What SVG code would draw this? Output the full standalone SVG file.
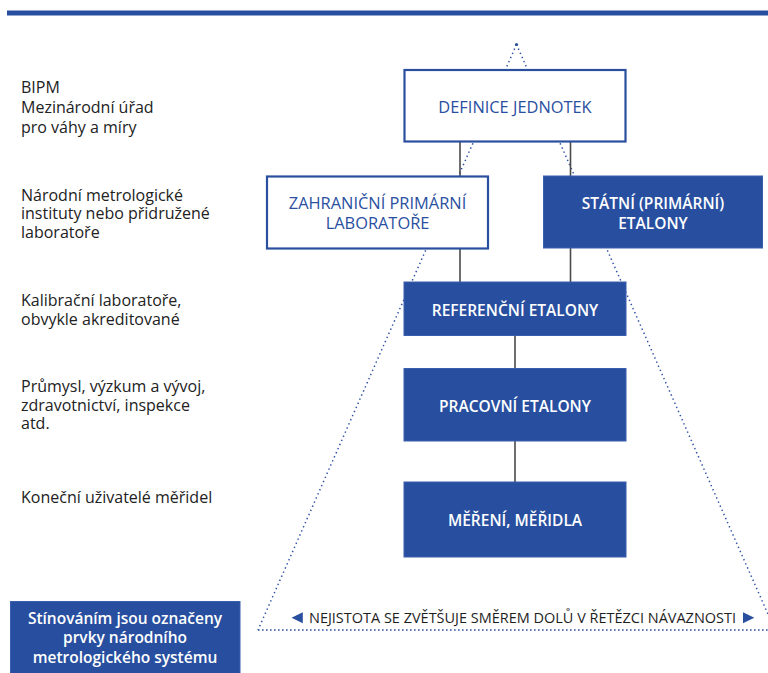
<svg xmlns="http://www.w3.org/2000/svg" width="768" height="673" viewBox="0 0 768 673">
  <style>
    .label { font-family: "Open Sans", "Noto Sans", "DejaVu Sans", sans-serif; font-size: 16px; fill: #222222; }
    .box-white { fill: #ffffff; stroke: #2a4f9f; stroke-width: 2.2; }
    .box-blue { fill: #284f9f; stroke: #3a5fac; stroke-width: 1; }
    .t-blue { font-family: "Open Sans", "Noto Sans", "DejaVu Sans", sans-serif; font-size: 16.4px; fill: #2a4f9f; text-anchor: middle; }
    .t-white { font-family: "Open Sans", "Noto Sans", "DejaVu Sans", sans-serif; font-size: 15.5px; font-weight: 600; fill: #ffffff; text-anchor: middle; }
    .link { stroke: #4a4a4a; stroke-width: 1.6; fill: none; }
    .dots { stroke: #2f52a3; stroke-width: 1.5; fill: none; stroke-dasharray: 1.4 3.1; }
    .note { font-family: "Open Sans", "Noto Sans", "DejaVu Sans", sans-serif; font-size: 15px; fill: #1e1e1e; }
  </style>

  <!-- header rule -->
  <rect x="7" y="10.5" width="761" height="5" fill="#284f9f"/>

  <!-- uncertainty pyramid (dotted), drawn under the boxes -->
  <g id="pyramid">
    <path class="dots" d="M516.5 44.5 L258 630 M516.5 44.5 L775 630"/>
    <path class="dots" d="M258 630 L768 630" style="stroke-dasharray: 1.6 2.4"/>
    <circle cx="516.5" cy="44.5" r="1.6" fill="#2a4f9f"/>
  </g>

  <!-- connectors -->
  <g id="connectors">
    <line class="link" x1="460" y1="142" x2="460" y2="176"/>
    <line class="link" x1="570.5" y1="142" x2="570.5" y2="176"/>
    <line class="link" x1="460" y1="249" x2="460" y2="282"/>
    <line class="link" x1="570.5" y1="248" x2="570.5" y2="282"/>
    <line class="link" x1="515" y1="335" x2="515" y2="368"/>
    <line class="link" x1="515" y1="441" x2="515" y2="482"/>
  </g>

  <!-- hierarchy nodes -->
  <g id="definice">
    <rect class="box-white" x="404.5" y="70" width="221" height="71.5"/>
    <text class="t-blue" x="515" y="112.8">DEFINICE JEDNOTEK</text>
  </g>
  <g id="zahranicni">
    <rect class="box-white" x="267" y="176.5" width="221" height="72"/>
    <text class="t-blue" x="377.5" y="209.3">ZAHRANIČNÍ PRIMÁRNÍ</text>
    <text class="t-blue" x="377.5" y="228.6">LABORATOŘE</text>
  </g>
  <g id="statni">
    <rect class="box-blue" x="543.5" y="176" width="219" height="72"/>
    <text class="t-white" x="653" y="209.3">STÁTNÍ (PRIMÁRNÍ)</text>
    <text class="t-white" x="653" y="228.6">ETALONY</text>
  </g>
  <g id="referencni">
    <rect class="box-blue" x="404" y="282" width="222" height="53.5"/>
    <text class="t-white" x="515" y="315.7">REFERENČNÍ ETALONY</text>
  </g>
  <g id="pracovni">
    <rect class="box-blue" x="404" y="368.5" width="222" height="72.5"/>
    <text class="t-white" x="515" y="412.3">PRACOVNÍ ETALONY</text>
  </g>
  <g id="mereni">
    <rect class="box-blue" x="404" y="482" width="222" height="75"/>
    <text class="t-white" x="515" y="525.7">MĚŘENÍ, MĚŘIDLA</text>
  </g>

  <!-- level captions on the left -->
  <g id="levels">
    <text class="label" x="21" y="93.3">BIPM</text>
    <text class="label" x="21" y="113.3">Mezinárodní úřad</text>
    <text class="label" x="21" y="133.3">pro váhy a míry</text>

    <text class="label" x="21" y="200.7">Národní metrologické</text>
    <text class="label" x="21" y="219">instituty nebo přidružené</text>
    <text class="label" x="21" y="237.5">laboratoře</text>

    <text class="label" x="21" y="305.7">Kalibrační laboratoře,</text>
    <text class="label" x="21" y="325">obvykle akreditované</text>

    <text class="label" x="21" y="391.7">Průmysl, výzkum a vývoj,</text>
    <text class="label" x="21" y="410.5">zdravotnictví, inspekce</text>
    <text class="label" x="21" y="429.3">atd.</text>

    <text class="label" x="21" y="503.3">Koneční uživatelé měřidel</text>
  </g>

  <!-- uncertainty caption -->
  <g id="uncertainty-note">
    <polygon points="291.5,617.7 302.8,612.2 302.8,623.2" fill="#2a4f9f"/>
    <text class="note" x="309" y="622.5" textLength="427" lengthAdjust="spacingAndGlyphs">NEJISTOTA SE ZVĚTŠUJE SMĚREM DOLŮ V ŘETĚZCI NÁVAZNOSTI</text>
    <polygon points="754.3,617.7 743,612.2 743,623.2" fill="#2a4f9f"/>
  </g>

  <!-- legend -->
  <g id="legend">
    <rect class="box-blue" x="10.5" y="601.5" width="229.5" height="72"/>
    <text class="t-white" x="125" y="624.3">Stínováním jsou označeny</text>
    <text class="t-white" x="125" y="643.3">prvky národního</text>
    <text class="t-white" x="125" y="662.5">metrologického systému</text>
  </g>
</svg>
